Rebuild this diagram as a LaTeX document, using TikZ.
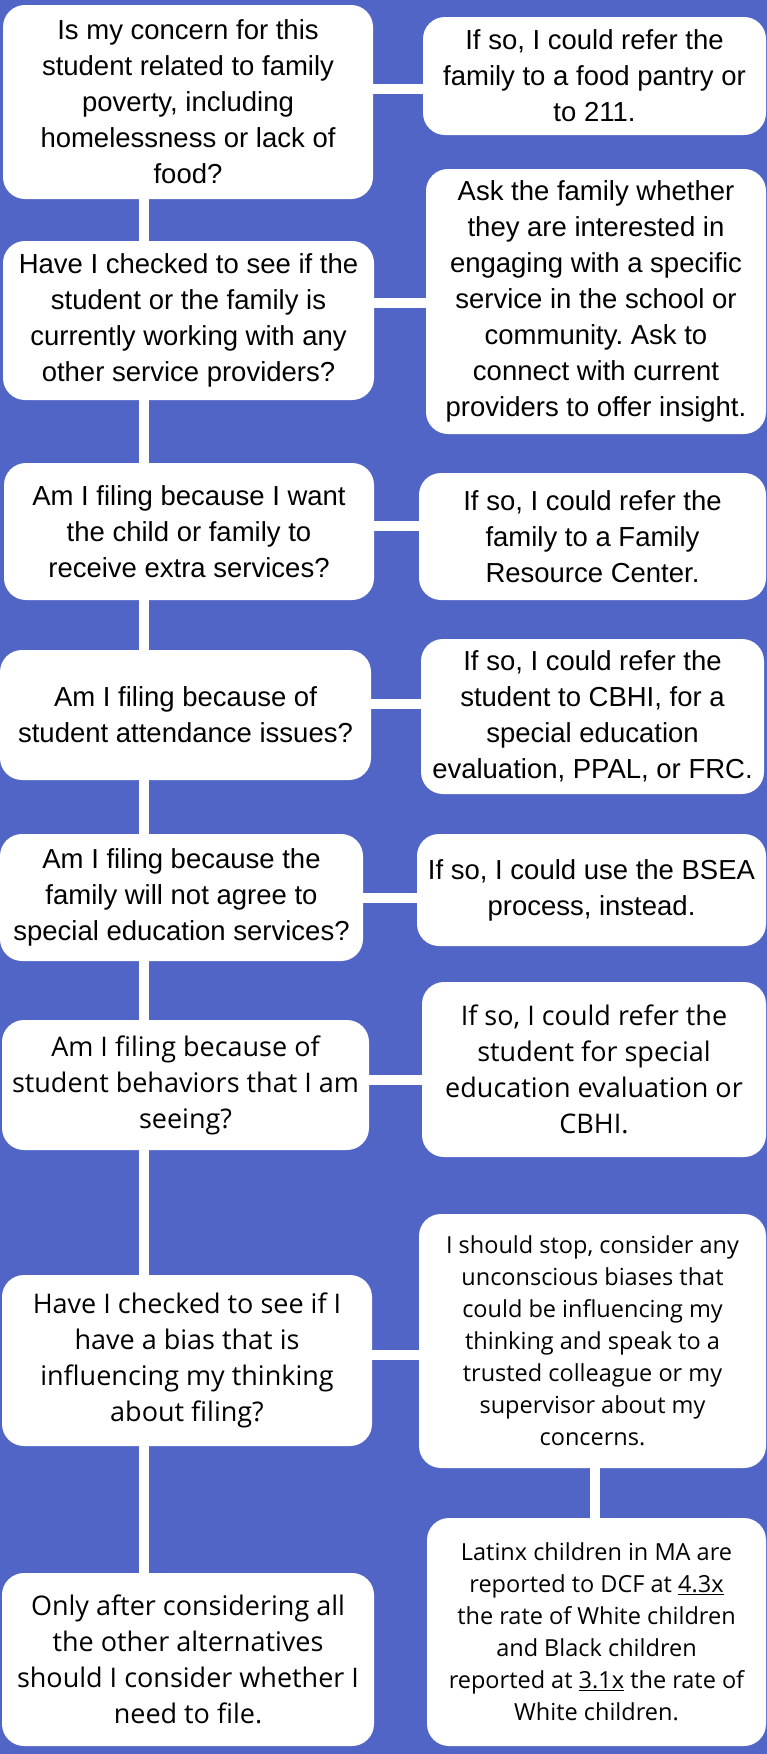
\documentclass[tikz,border=0pt]{standalone}
\usepackage{fontspec}
\setmainfont{Liberation Sans}
\newfontfamily\lowfamily{Open Sans}
\usetikzlibrary{calc}
\frenchspacing
\definecolor{bgblue}{RGB}{81,101,199}
\newcommand\txtA{\fontsize{27.5}{36}\selectfont}
\newcommand\txtB{\lowfamily\fontsize{27}{36}\selectfont}
\newcommand\txtC{\lowfamily\fontsize{23.5}{32}\selectfont}
\pgfdeclarelayer{bg}
\pgfsetlayers{bg,main}
\tikzset{
  box/.style={fill=white, rounded corners=22pt, inner sep=0pt, align=center, text=black},
  conn/.style={draw=white, line width=10pt},
}
\begin{document}
\begin{tikzpicture}[x=1pt,y=-1pt]
\useasboundingbox (0,0) rectangle (767,1754);
% left column
\node[box, font=\txtA, minimum width=370pt, minimum height=194pt] (L1) at (188,102)
  {Is my concern for this\\student related to family\\poverty, including\\homelessness or lack of\\food?};
\node[box, font=\txtA, minimum width=371pt, minimum height=159pt] (L2) at (188.5,320.5)
  {Have I checked to see if the\\student or the family is\\currently working with any\\other service providers?};
\node[box, font=\txtA, minimum width=370pt, minimum height=137pt] (L3) at (189,531.5)
  {Am I filing because I want\\the child or family to\\receive extra services?};
\node[box, font=\txtA, minimum width=371pt, minimum height=130pt] (L4) at (185.5,715)
  {Am I filing because of\\student attendance issues?};
\node[box, font=\txtA, minimum width=363pt, minimum height=127pt] (L5) at (181.5,897.5)
  {Am I filing because the\\family will not agree to\\special education services?};
\node[box, font=\txtB, minimum width=367pt, minimum height=130pt] (L6) at (185.5,1085)
  {Am I filing because of\\student behaviors that I am\\seeing?};
\node[box, font=\txtB, minimum width=370pt, minimum height=171pt] (L7) at (187,1360.5)
  {Have I checked to see if I\\have a bias that is\\influencing my thinking\\about filing?};
\node[box, font=\txtB, minimum width=372pt, minimum height=173pt] (L8) at (188,1659.5)
  {Only after considering all\\the other alternatives\\should I consider whether I\\need to file.};
% right column
\node[box, font=\txtA, minimum width=343pt, minimum height=118pt] (R1) at (594.5,76)
  {If so, I could refer the\\family to a food pantry or\\to 211.};
\node[box, font=\txtA, minimum width=340pt, minimum height=265pt] (R2) at (596,301.5)
  {Ask the family whether\\they are interested in\\engaging with a specific\\service in the school or\\community. Ask to\\connect with current\\providers to offer insight.};
\node[box, font=\txtA, minimum width=347pt, minimum height=127pt] (R3) at (592.5,536.5)
  {If so, I could refer the\\family to a Family\\Resource Center.};
\node[box, font=\txtA, minimum width=343pt, minimum height=155pt] (R4) at (592.5,716.5)
  {If so, I could refer the\\student to CBHI, for a\\special education\\evaluation, PPAL, or FRC.};
\node[box, font=\txtA, minimum width=349pt, minimum height=112pt] (R5) at (591.5,890)
  {If so, I could use the BSEA\\process, instead.};
\node[box, font=\txtB, minimum width=344pt, minimum height=175pt] (R6) at (594,1069.5)
  {If so, I could refer the\\student for special\\education evaluation or\\CBHI.};
\node[box, font=\txtC, minimum width=347pt, minimum height=254pt] (R7) at (592.5,1341)
  {I should stop, consider any\\unconscious biases that\\could be influencing my\\thinking and speak to a\\trusted colleague or my\\supervisor about my\\concerns.};
\node[box, font=\txtC, minimum width=339pt, minimum height=228pt] (R8) at (596.5,1632)
  {Latinx children in MA are\\reported to DCF at \underline{4.3x}\\the rate of White children\\and Black children\\reported at \underline{3.1x} the rate of\\White children.};
\begin{pgfonlayer}{bg}
\fill[bgblue] (0,0) rectangle (767,1754);
% trunk
\draw[conn] (L1.center -| 144,0) -- (L2.center -| 144,0);
\draw[conn] (L2.center -| 144,0) -- (L3.center -| 144,0);
\draw[conn] (L3.center -| 144,0) -- (L4.center -| 144,0);
\draw[conn] (L4.center -| 144,0) -- (L5.center -| 144,0);
\draw[conn] (L5.center -| 144,0) -- (L6.center -| 144,0);
\draw[conn] (L6.center -| 144,0) -- (L7.center -| 144,0);
\draw[conn] (L7.center -| 144,0) -- (L8.center -| 144,0);
% branches
\draw[conn] (L1.center |- 0,88.5) -- (R1.center |- 0,88.5);
\draw[conn] (L2.center |- 0,303) -- (R2.center |- 0,303);
\draw[conn] (L3.center |- 0,526) -- (R3.center |- 0,526);
\draw[conn] (L4.center |- 0,704) -- (R4.center |- 0,704);
\draw[conn] (L5.center |- 0,898) -- (R5.center |- 0,898);
\draw[conn] (L6.center |- 0,1080) -- (R6.center |- 0,1080);
\draw[conn] (L7.center |- 0,1355) -- (R7.center |- 0,1355);
\draw[conn] (R7.center -| 595,0) -- (R8.center -| 595,0);
\end{pgfonlayer}
\end{tikzpicture}
\end{document}
